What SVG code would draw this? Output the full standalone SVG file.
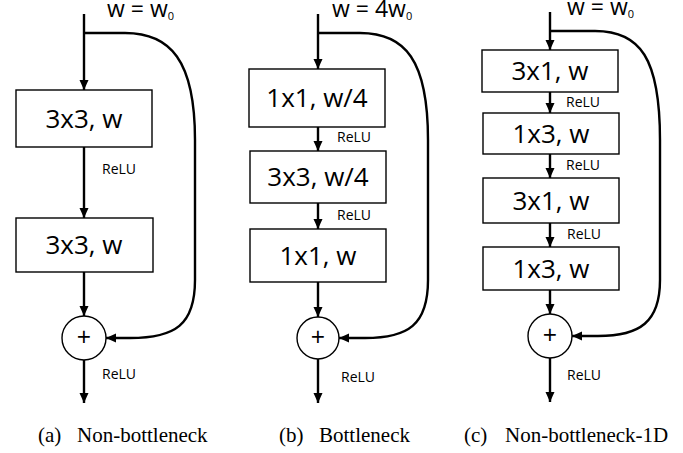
<svg xmlns="http://www.w3.org/2000/svg" width="683" height="453" viewBox="0 0 683 453">
<style>
.box{fill:#fff;stroke:#000;stroke-width:1.4}
.circ{fill:#fff;stroke:#000;stroke-width:1.4}
.ln{fill:none;stroke:#000;stroke-width:2.4;marker-end:url(#ah)}
.bt{font-family:"Open Sans","Liberation Sans",Arial,sans-serif;font-size:26px;text-anchor:middle;fill:#000}
.rl{font-family:"Open Sans","Liberation Sans",Arial,sans-serif;font-size:14px;fill:#000}
.pl{font-family:"Open Sans","Liberation Sans",Arial,sans-serif;font-size:25px;text-anchor:middle;fill:#000}
.wt{font-family:"Open Sans","Liberation Sans",Arial,sans-serif;font-size:23px;fill:#000}
.cap{font-family:"Liberation Serif","Times New Roman",serif;font-size:21px;fill:#000}
</style>
<defs>
<marker id="ah" markerWidth="10" markerHeight="10" refX="10" refY="5" orient="auto" markerUnits="userSpaceOnUse">
<path d="M0,0.5 L10,5 L0,9.5 z" fill="#000"/>
</marker>
</defs>
<rect width="683" height="453" fill="#fff"/>

<g id="connectors">
<path class="ln" d="M84,14 V90"/>
<path class="ln" d="M84,147 V218"/>
<path class="ln" d="M84,272 V316"/>
<path class="ln" d="M84,360 V403"/>
<path class="ln" d="M84,33 H125 C170,33 195,60 195,140 V280 C195,325 175,338 130,338 H106"/>
<path class="ln" d="M318,14 V69"/>
<path class="ln" d="M318,127 V151"/>
<path class="ln" d="M318,203 V229"/>
<path class="ln" d="M318,282 V317"/>
<path class="ln" d="M318,359 V403"/>
<path class="ln" d="M318,33 H360 C405,33 428,60 428,140 V280 C428,325 408,338 365,338 H339"/>
<path class="ln" d="M550,12 V50"/>
<path class="ln" d="M550,92 V113"/>
<path class="ln" d="M550,154 V178"/>
<path class="ln" d="M550,223 V247"/>
<path class="ln" d="M550,290 V314"/>
<path class="ln" d="M550,358 V402"/>
<path class="ln" d="M550,31 H595 C640,31 660,58 660,140 V280 C660,322 640,336 598,336 H572"/>
</g>

<g id="labels">
<text class="wt" x="107" y="17">w = w<tspan font-size="11" dy="3">0</tspan></text>
<text class="wt" x="332" y="17">w = 4w<tspan font-size="11" dy="3">0</tspan></text>
<text class="wt" x="567" y="15">w = w<tspan font-size="11" dy="3">0</tspan></text>
<text class="rl" x="102" y="174">ReLU</text>
<text class="rl" x="102" y="379">ReLU</text>
<text class="rl" x="337" y="142">ReLU</text>
<text class="rl" x="337" y="220">ReLU</text>
<text class="rl" x="341" y="382">ReLU</text>
<text class="rl" x="566" y="107">ReLU</text>
<text class="rl" x="566" y="170">ReLU</text>
<text class="rl" x="567" y="239">ReLU</text>
<text class="rl" x="567" y="380">ReLU</text>
</g>

<g id="a-box1"><rect class="box" x="16" y="90" width="136" height="57"/><text class="bt" x="84" y="128">3x3, w</text></g>
<g id="a-box2"><rect class="box" x="16" y="218" width="137" height="54"/><text class="bt" x="84" y="254">3x3, w</text></g>
<g id="a-add"><circle class="circ" cx="84" cy="338" r="22"/><text class="pl" x="84" y="346">+</text></g>

<g id="b-box1"><rect class="box" x="249" y="69" width="136" height="58"/><text class="bt" x="317" y="107">1x1, w/4</text></g>
<g id="b-box2"><rect class="box" x="250" y="151" width="136" height="52"/><text class="bt" x="318" y="186">3x3, w/4</text></g>
<g id="b-box3"><rect class="box" x="250" y="229" width="136" height="53"/><text class="bt" x="318" y="265">1x1, w</text></g>
<g id="b-add"><circle class="circ" cx="318" cy="338" r="21"/><text class="pl" x="318" y="346">+</text></g>

<g id="c-box1"><rect class="box" x="482" y="50" width="136" height="42"/><text class="bt" x="550" y="80">3x1, w</text></g>
<g id="c-box2"><rect class="box" x="483" y="113" width="136" height="41"/><text class="bt" x="551" y="143">1x3, w</text></g>
<g id="c-box3"><rect class="box" x="483" y="178" width="136" height="45"/><text class="bt" x="551" y="210">3x1, w</text></g>
<g id="c-box4"><rect class="box" x="483" y="247" width="136" height="43"/><text class="bt" x="551" y="278">1x3, w</text></g>
<g id="c-add"><circle class="circ" cx="550" cy="336" r="22"/><text class="pl" x="550" y="344">+</text></g>

<g id="captions">
<text class="cap" x="38" y="442">(a)</text><text class="cap" x="77" y="442">Non-bottleneck</text>
<text class="cap" x="279" y="442">(b)</text><text class="cap" x="319" y="442">Bottleneck</text>
<text class="cap" x="464" y="442">(c)</text><text class="cap" x="505" y="442">Non-bottleneck-1D</text>
</g>
</svg>
